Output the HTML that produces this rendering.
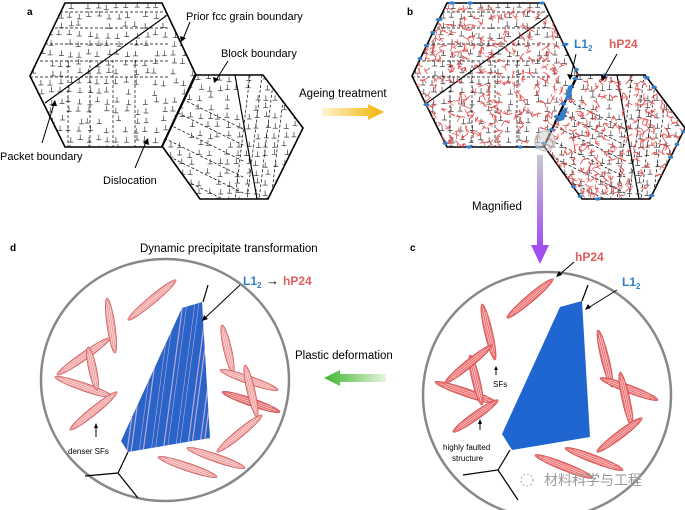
<!DOCTYPE html>
<html><head><meta charset="utf-8"><style>
html,body{margin:0;padding:0;background:#fff;width:685px;height:510px;overflow:hidden}
svg{display:block}
text{font-family:"Liberation Sans",sans-serif}
</style></head><body>
<svg id="s" width="685" height="510" viewBox="0 0 685 510" xmlns="http://www.w3.org/2000/svg">
<defs>
<clipPath id="hl"><polygon points="65,3 162,3 196,75 162,147 65,147 30,76"/></clipPath>
<clipPath id="hr"><polygon points="195,75 263,75 303,128 268,199 200,199 162,146"/></clipPath>
<clipPath id="bd"><polygon points="182,308 202,302 210,438 128,452 121,441"/></clipPath>
<linearGradient id="gy" x1="0" x2="1"><stop offset="0" stop-color="#fff3d0"/><stop offset="1" stop-color="#f0b400"/></linearGradient>
<linearGradient id="gg" x1="1" x2="0"><stop offset="0" stop-color="#e6f5e0"/><stop offset="1" stop-color="#3db52d"/></linearGradient>
<linearGradient id="gp" x1="0" y1="0" x2="0" y2="1"><stop offset="0" stop-color="#c8c8d0"/><stop offset="1" stop-color="#a24ff0"/></linearGradient>
</defs>
<g id="hexA">
 <g clip-path="url(#hl)" id="gl"></g>
 <g clip-path="url(#hr)" id="gr"></g>
 <polygon points="65,3 162,3 196,75 162,147 65,147 30,76" fill="none" stroke="#000" stroke-width="1.6"/>
 <polygon points="195,75 263,75 303,128 268,199 200,199 162,146" fill="none" stroke="#000" stroke-width="1.6"/>
 <line x1="45" y1="103" x2="166" y2="16" stroke="#000" stroke-width="1.2"/>
 <line x1="235" y1="75" x2="257" y2="199" stroke="#000" stroke-width="1.2"/>
</g>
<g id="hexB" transform="translate(382,0)"></g>
<g id="bextra"></g>

<text x="27" y="15" font-size="10" font-weight="bold">a</text>
<text x="407" y="15" font-size="10" font-weight="bold">b</text>
<text x="410" y="251" font-size="10" font-weight="bold">c</text>
<text x="10" y="251" font-size="10" font-weight="bold">d</text>

<text x="186" y="20" font-size="11">Prior fcc grain boundary</text>
<line x1="190" y1="22" x2="183" y2="39" stroke="#000"/><polygon points="181,42 180,36 186,38" fill="#000"/>
<text x="221" y="57" font-size="11">Block boundary</text>
<line x1="228" y1="61" x2="216" y2="80" stroke="#000"/><polygon points="214,83 213,77 219,79" fill="#000"/>
<text x="0" y="160" font-size="11">Packet boundary</text>
<line x1="42" y1="143" x2="54" y2="104" stroke="#000"/><polygon points="55,100 51,106 57,106" fill="#000"/>
<text x="103" y="184" font-size="11">Dislocation</text>
<line x1="135" y1="168" x2="146" y2="142" stroke="#000"/><polygon points="148,138 143,143 149,145" fill="#000"/>

<text x="299" y="97" font-size="11.5">Ageing treatment</text>
<polygon points="322,108 368,108 368,104 384,112 368,120 368,116 322,116" fill="url(#gy)"/>

<text x="574" y="48" font-size="12" font-weight="bold" fill="#2f7fc6">L1<tspan font-size="8" dy="3">2</tspan></text>
<line x1="576" y1="54" x2="571" y2="76" stroke="#000"/><polygon points="570,80 567,74 573,75" fill="#000"/>
<text x="609" y="48" font-size="12" font-weight="bold" fill="#e05a5a">hP24</text>
<line x1="617" y1="54" x2="604" y2="77" stroke="#000"/><polygon points="602,81 601,75 607,77" fill="#000"/>

<text x="472" y="210" font-size="11.5">Magnified</text>
<rect x="537" y="155" width="6" height="92" fill="url(#gp)"/>
<polygon points="531,245 549,245 540,264" fill="#a24ff0"/>

<text x="140" y="252" font-size="11.5">Dynamic precipitate transformation</text>
<text x="295" y="359" font-size="11.5">Plastic deformation</text>
<polygon points="386,374 340,374 340,370 324,378 340,386 340,382 386,382" fill="url(#gg)"/>

<ellipse cx="165" cy="380" rx="124" ry="121" fill="#fff" stroke="#888" stroke-width="2.5"/>
<g id="ed"></g>
<polygon points="182,308 202,302 210,438 128,452 121,441" fill="#2a64c8"/>
<g clip-path="url(#bd)" id="stripes"></g>
<polyline points="203,302 208,285" fill="none" stroke="#000" stroke-width="1.2"/>
<polyline points="128,452 118,473 85,476" fill="none" stroke="#000" stroke-width="1.2"/>
<line x1="118" y1="473" x2="138" y2="498" stroke="#000" stroke-width="1.2"/>
<text x="243" y="285" font-size="12" font-weight="bold" fill="#2f7fc6">L1<tspan font-size="8" dy="3">2</tspan></text>
<text x="266" y="285" font-size="13" font-weight="bold">→</text>
<text x="283" y="285" font-size="12" font-weight="bold" fill="#e06060">hP24</text>
<line x1="240" y1="285" x2="205" y2="318" stroke="#000"/><polygon points="202,321 204,315 208,319" fill="#000"/>
<text x="68" y="454" font-size="8">denser SFs</text>
<line x1="96" y1="437" x2="96" y2="427" stroke="#000"/><polygon points="96,423 94,428 98,428" fill="#000"/>

<ellipse cx="547" cy="395" rx="124" ry="123" fill="#fff" stroke="#888" stroke-width="2.5"/>
<g id="ec"></g>
<polygon points="560,307 582,301 590,437 512,450 502,434" fill="#1f66d1"/>
<polyline points="582,301 588,285" fill="none" stroke="#000" stroke-width="1.2"/>
<polyline points="510,450 498,470 463,475" fill="none" stroke="#000" stroke-width="1.2"/>
<line x1="498" y1="470" x2="518" y2="500" stroke="#000" stroke-width="1.2"/>
<text x="575" y="261" font-size="12" font-weight="bold" fill="#e05a5a">hP24</text>
<line x1="574" y1="262" x2="559" y2="275" stroke="#000"/><polygon points="556,277 559,271 562,275" fill="#000"/>
<text x="622" y="286" font-size="12" font-weight="bold" fill="#2f7fc6">L1<tspan font-size="8" dy="3">2</tspan></text>
<line x1="617" y1="290" x2="588" y2="308" stroke="#000"/><polygon points="585,310 588,304 591,308" fill="#000"/>
<text x="493" y="387" font-size="8">SFs</text>
<line x1="496" y1="375" x2="496" y2="369" stroke="#000"/><polygon points="496,366 494,370 498,370" fill="#000"/>
<text x="443" y="450" font-size="8">highly faulted</text>
<text x="452" y="461" font-size="8">structure</text>
<line x1="480" y1="430" x2="480" y2="423" stroke="#000"/><polygon points="480,419 478,424 482,424" fill="#000"/>

<circle cx="527" cy="480" r="6" fill="none" stroke="#aaa" stroke-width="1" stroke-dasharray="2 2"/>
<text x="544" y="485" font-size="14" fill="#9a9a9a" font-family="Liberation Sans, Noto Sans CJK SC, sans-serif">材料科学与工程</text>
</svg>
<script>
var NS="http://www.w3.org/2000/svg";
function el(p,t,a){var e=document.createElementNS(NS,t);for(var k in a)e.setAttribute(k,a[k]);p.appendChild(e);return e;}
var rnd=(function(){var s=7;return function(){s=(s*9301+49297)%233280;return s/233280;};})();
function dis(g,x0,x1,y0,y1,sp){for(var y=y0;y<y1;y+=sp)for(var x=x0;x<x1;x+=sp){if(rnd()<0.15)continue;var x_=x+rnd()*4,y_=y+rnd()*4;
 el(g,"path",{d:"M"+(x_-2.5)+" "+(y_+3)+"h5M"+x_+" "+(y_+3)+"v-5",stroke:"#444","stroke-width":"0.75",fill:"none"});}}
var gl=document.getElementById("gl"),gr=document.getElementById("gr");
dis(gl,30,196,3,147,9.5);dis(gr,160,305,75,200,9.5);
function dl(g,x1,y1,x2,y2){el(g,"line",{x1:x1,y1:y1,x2:x2,y2:y2,stroke:"#000","stroke-width":"0.7","stroke-dasharray":"3 2"});}
[12,28,44,61,77].forEach(function(y){dl(gl,30,y,170,y);});
[68,90,113,135].forEach(function(x){dl(gl,x,60,x,147);});
for(var i=0;i<6;i++){dl(gr,160,88+i*16,245,130+i*16);}
for(var i=0;i<4;i++){dl(gr,250+i*12,75,255+i*12-20,200);}
var hb=document.getElementById("hexB");
el(hb,"use",{href:"#hexA"});
var rg=el(hb,"g",{});
function squig(g,cx,cy){for(var k=0;k<4;k++){var a=rnd()*6.28,l=2.5+rnd()*3.5;el(g,"line",{x1:cx,y1:cy,x2:cx+Math.cos(a)*l,y2:cy+Math.sin(a)*l,stroke:"#e05050","stroke-width":"0.8"});}}
var gA=el(rg,"g",{"clip-path":"url(#hl)"}),gB=el(rg,"g",{"clip-path":"url(#hr)"});
for(var y=8;y<147;y+=7)for(var x=34;x<196;x+=8)if(rnd()<0.6)squig(gA,x+rnd()*4,y+rnd()*4);
for(var y=80;y<200;y+=7)for(var x=165;x<303;x+=8)if(rnd()<0.6)squig(gB,x+rnd()*4,y+rnd()*4);
var be=document.getElementById("bextra");
var pl=[[447,3],[547,3],[578,73],[542,147],[447,147],[412,75],[447,3]];
var pr=[[577,75],[645,75],[685,128],[650,199],[582,199],[544,146],[577,75]];
[pl,pr].forEach(function(p){for(var i=0;i<p.length-1;i++){for(var t=0.05;t<1;t+=0.18){if(rnd()<0.45){var x=p[i][0]+(p[i+1][0]-p[i][0])*t,y=p[i][1]+(p[i+1][1]-p[i][1])*t;el(be,"ellipse",{cx:x,cy:y,rx:2+rnd()*1.5,ry:1.6,fill:"#2f7fd0"});}}}});
el(be,"polygon",{points:"568,86 573,84 571,98 565,101",fill:"#2f7fd0"});
el(be,"polygon",{points:"562,110 568,107 564,120 556,122",fill:"#2f7fd0"});
el(be,"circle",{cx:545,cy:141,r:10,fill:"#ccc","fill-opacity":"0.5",stroke:"#bbb"});
function ell(g,x1,y1,x2,y2,w,c){var cx=(x1+x2)/2,cy=(y1+y2)/2,l=Math.hypot(x2-x1,y2-y1)/2,a=Math.atan2(y2-y1,x2-x1)*180/Math.PI;
 var gg=el(g,"g",{transform:"translate("+cx+","+cy+") rotate("+a+")"});
 el(gg,"ellipse",{cx:0,cy:0,rx:l,ry:w,fill:c,stroke:"#c04848","stroke-width":"0.6"});
 el(gg,"line",{x1:-l*0.85,y1:0,x2:l*0.85,y2:0,stroke:"#fff","stroke-width":"0.5"});
 el(gg,"line",{x1:-l*0.7,y1:-w*0.45,x2:l*0.7,y2:-w*0.45,stroke:"#fff","stroke-width":"0.4"});
 el(gg,"line",{x1:-l*0.7,y1:w*0.45,x2:l*0.7,y2:w*0.45,stroke:"#fff","stroke-width":"0.4"});}
var ed=document.getElementById("ed"),ec=document.getElementById("ec");
[[128,320,176,280],[107,298,115,353],[57,375,110,338],[55,377,113,397],[88,347,97,390],[70,430,117,392],[222,325,233,373],[220,370,278,390],[222,392,280,412],[245,365,257,417],[217,452,262,415],[187,448,245,468],[158,457,217,477]].forEach(function(p,i){ell(ed,p[0],p[1],p[2],p[3],4,i==8?"#e87070":"#f2a0a0");});
[[507,318,553,279],[482,304,495,360],[435,382,497,403],[453,432,498,400],[470,355,482,405],[445,383,492,345],[598,330,612,387],[600,378,658,400],[620,372,632,427],[597,452,642,418],[565,448,623,470],[535,455,593,478]].forEach(function(p){ell(ec,p[0],p[1],p[2],p[3],4,"#f07272");});
var st=document.getElementById("stripes");
for(var x=110;x<230;x+=4){el(st,"line",{x1:x,y1:460,x2:x+22,y2:295,stroke:(Math.floor(x/4)%3==0?"#2a64c8":"#b9a9d9"),"stroke-width":(rnd()<0.5?"1.2":"0.6")});}
</script>
</body></html>
